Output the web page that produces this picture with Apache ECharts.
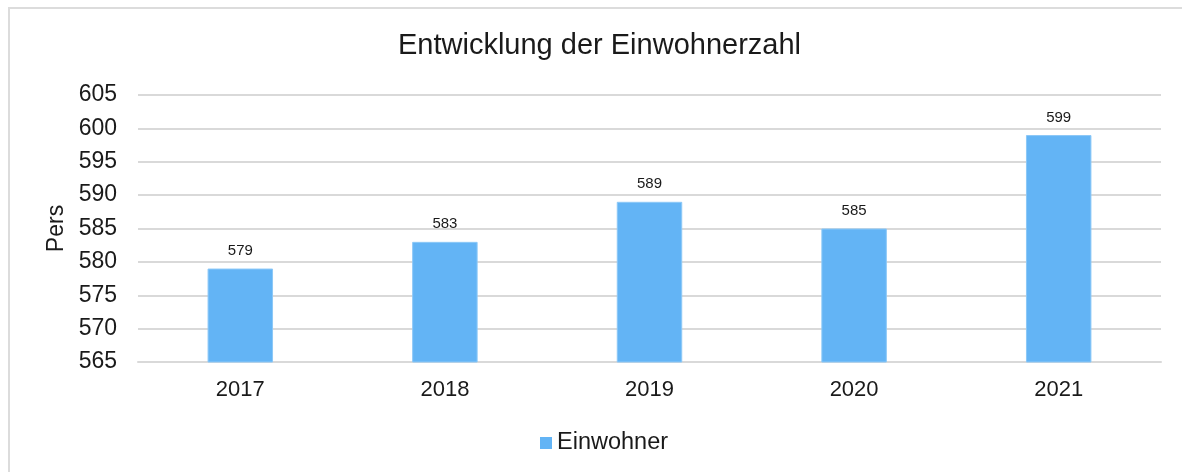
<!DOCTYPE html>
<html>
<head>
<meta charset="utf-8">
<script src="https://cdn.jsdelivr.net/npm/echarts@6/dist/echarts.min.js"></script>
<style>
html,body{margin:0;padding:0;background:#fff;overflow:hidden;}
#frame{position:absolute;left:8px;top:7px;width:1300px;height:600px;border-left:2px solid #dcdcdc;border-top:2px solid #dcdcdc;}
#chart{position:absolute;left:0;top:0;width:1182px;height:472px;}
</style>
</head>
<body>
<div id="frame"></div>
<div id="chart"></div>
<script>
const title = "Entwicklung der Einwohnerzahl";
const categories = ["2017", "2018", "2019", "2020", "2021"];
const seriesName = "Einwohner";
const values = [579, 583, 589, 585, 599];
const yAxisName = "Pers";

const font = "'Liberation Sans', Arial, Helvetica, sans-serif";
const chart = echarts.init(document.getElementById('chart'), null, {renderer: 'canvas'});
chart.setOption({
  backgroundColor: 'transparent',
  animation: false,
  textStyle: {fontFamily: font, color: '#1a1a1a'},
  title: {
    text: title, left: 393, top: 26,
    textStyle: {fontFamily: font, fontSize: 29, fontWeight: 'normal', color: '#1a1a1a'}
  },
  legend: {
    data: [seriesName], left: 535, top: 426,
    icon: 'rect', itemWidth: 12, itemHeight: 12, itemGap: 10,
    itemStyle: {borderWidth: 0},
    textStyle: {fontFamily: font, fontSize: 23.5, color: '#1a1a1a', padding: [0,0,0,0]}
  },
  grid: {left: 138, right: 21, top: 95, bottom: 110, containLabel: false},
  xAxis: {
    type: 'category', data: categories,
    axisLine: {show: true, lineStyle: {color: '#d9d9d9', width: 2}},
    axisTick: {show: false},
    axisLabel: {fontFamily: font, fontSize: 22, color: '#1a1a1a', margin: 17}
  },
  yAxis: {
    type: 'value', min: 565, max: 605, interval: 5,
    name: yAxisName, nameLocation: 'middle', nameGap: 70, nameRotate: 90,
    nameTextStyle: {fontFamily: font, fontSize: 23, color: '#1a1a1a'},
    axisLine: {show: false}, axisTick: {show: false},
    axisLabel: {fontFamily: font, fontSize: 23, color: '#1a1a1a', margin: 21},
    splitLine: {lineStyle: {color: '#d9d9d9', width: 2}}
  },
  series: [{
    name: seriesName, type: 'bar', data: values,
    barWidth: '32%',
    itemStyle: {color: '#63b4f5', borderColor: '#8cc8f7', borderWidth: 1},
    label: {show: true, position: 'top', distance: 10, fontFamily: font, fontSize: 15, color: '#1a1a1a'}
  }]
});
</script>
</body>
</html>
